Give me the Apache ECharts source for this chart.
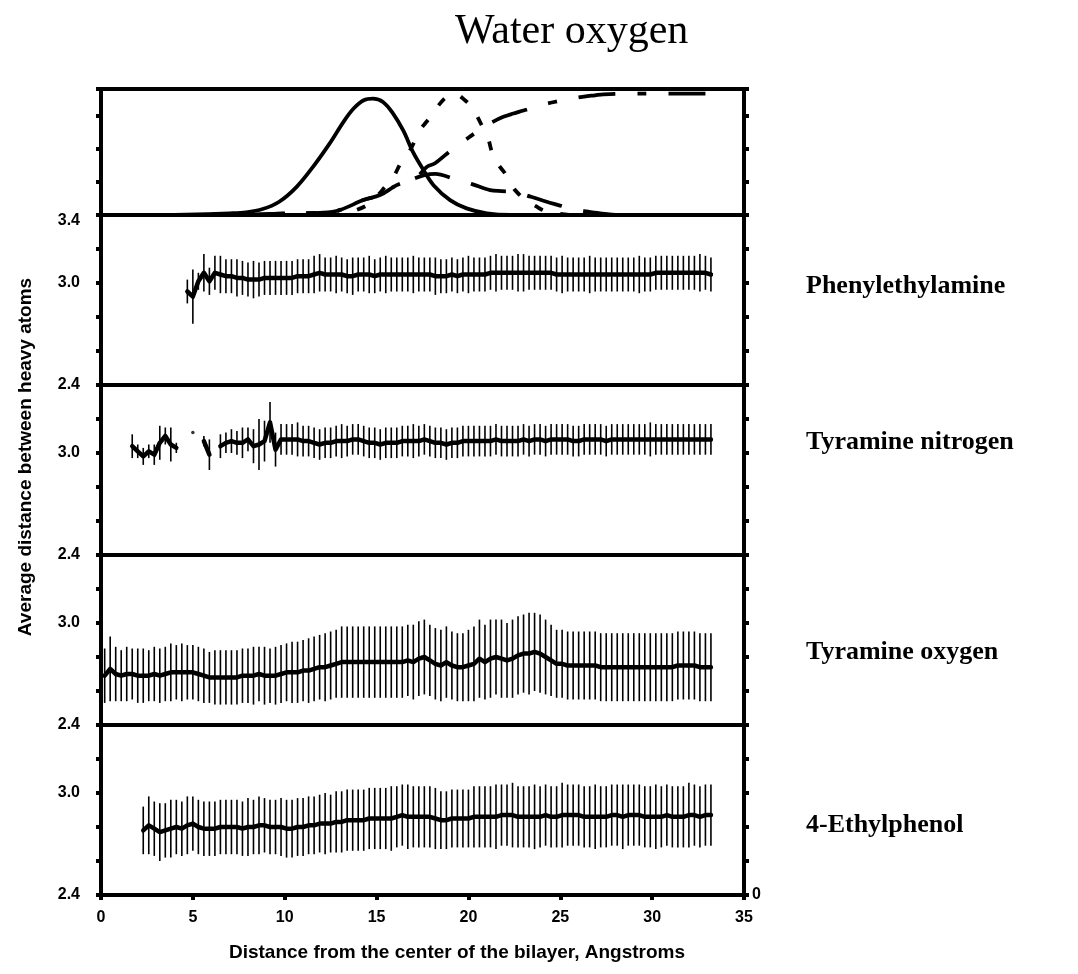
<!DOCTYPE html>
<html><head><meta charset="utf-8">
<script src="https://cdn.jsdelivr.net/npm/echarts@6/dist/echarts.min.js"></script>
<style>html,body{margin:0;padding:0;background:#fff}#c{width:1078px;height:974px}</style>
</head><body><div id="c"></div>
<script>
// ---- x sampling grid of the profiles (bin centres, Angstrom) ----
const X0 = 0.2, DX = 0.3;
const xTicks = [0, 5, 10, 15, 20, 25, 30, 35];

// ---- Top panel: density profiles ----
const solidX = [4, 7.0, 7.9, 8.8, 9.7, 10.65, 11.55, 12.45, 13.2, 13.75, 14.3, 14.8, 15.35, 15.9, 16.45, 17.0, 17.55, 18.1, 19.0, 19.9, 21.0, 22.3, 33];
const solidY = [0, 0.05, 0.08, 0.18, 0.40, 0.85, 1.46, 2.16, 2.81, 3.21, 3.46, 3.51, 3.41, 3.06, 2.55, 1.88, 1.36, 0.9, 0.45, 0.2, 0.05, 0, 0];
const dotX = [12.5, 13.5, 14.5, 15.0, 15.55, 15.82, 16.46, 16.73, 17.37, 17.64, 18.0, 18.45, 18.82, 19.3, 19.81, 20.18, 20.5, 20.81, 21.03, 21.36, 21.72, 22.0, 22.36, 22.54, 23.0, 23.72, 24.17, 25.0, 26.0, 33];
const dotY = [0, 0.08, 0.3, 0.55, 0.9, 1.05, 1.71, 1.86, 2.56, 2.76, 3.0, 3.36, 3.56, 3.65, 3.46, 3.26, 2.95, 2.61, 2.39, 1.76, 1.45, 1.25, 0.9, 0.75, 0.5, 0.25, 0.12, 0.03, 0, 0];
const bumpX = [8, 10.3, 12.1, 13.0, 14.28, 15.19, 16.1, 16.82, 17.6, 18.2, 19.18, 20.2, 21.18, 21.8, 22.45, 23.4, 24.26, 24.9, 25.53, 26.3, 27.16, 28.5, 33];
const bumpY = [0, 0.05, 0.07, 0.15, 0.45, 0.6, 0.9, 1.05, 1.2, 1.24, 1.1, 0.93, 0.75, 0.72, 0.7, 0.55, 0.4, 0.3, 0.2, 0.12, 0.05, 0, 0];
const waterX = [8, 10.3, 12.1, 13.0, 14.28, 15.19, 16.1, 16.82, 17.3, 17.73, 18.18, 19.18, 20.0, 20.72, 21.3, 21.9, 22.45, 23.0, 23.63, 24.6, 25.62, 26.3, 26.89, 27.34, 28.6, 30.6, 32.3, 33.0];
const waterY = [0, 0.05, 0.07, 0.15, 0.45, 0.6, 0.9, 1.05, 1.2, 1.45, 1.56, 2.01, 2.33, 2.61, 2.8, 2.96, 3.06, 3.15, 3.26, 3.4, 3.51, 3.57, 3.61, 3.64, 3.66, 3.66, 3.66, 3.66];

// ---- Phenylethylamine (bins from index 15) ----
const peaStart = 15;
const peaMean = [2.95,2.92,3.01,3.06,3.01,3.06,3.05,3.04,3.04,3.03,
3.03,3.02,3.02,3.02,3.03,3.03,3.03,3.03,3.03,3.03,
3.04,3.04,3.04,3.05,3.06,3.05,3.05,3.05,3.05,3.04,
3.04,3.05,3.05,3.05,3.04,3.05,3.05,3.05,3.05,3.05,
3.05,3.05,3.05,3.05,3.05,3.04,3.04,3.04,3.05,3.04,
3.05,3.05,3.05,3.05,3.05,3.06,3.06,3.06,3.06,3.06,
3.06,3.06,3.06,3.06,3.06,3.06,3.06,3.05,3.05,3.05,
3.05,3.05,3.05,3.05,3.05,3.05,3.05,3.05,3.05,3.05,
3.05,3.05,3.05,3.05,3.05,3.06,3.06,3.06,3.06,3.06,
3.06,3.06,3.06,3.06,3.06,3.05];
const peaErr = [0.07,0.16,0.05,0.11,0.08,0.10,0.11,0.10,0.10,0.11,
0.10,0.10,0.11,0.10,0.10,0.10,0.10,0.10,0.10,0.10,
0.10,0.10,0.10,0.11,0.11,0.10,0.10,0.11,0.10,0.10,
0.11,0.10,0.10,0.11,0.10,0.10,0.11,0.10,0.10,0.10,
0.10,0.11,0.10,0.10,0.10,0.11,0.10,0.10,0.10,0.10,
0.10,0.11,0.10,0.10,0.10,0.10,0.11,0.10,0.10,0.10,
0.11,0.11,0.10,0.10,0.10,0.10,0.10,0.10,0.11,0.10,
0.10,0.10,0.10,0.11,0.10,0.10,0.10,0.10,0.10,0.10,
0.10,0.10,0.11,0.10,0.10,0.10,0.10,0.10,0.10,0.10,
0.10,0.10,0.10,0.11,0.10,0.10];

// ---- Tyramine nitrogen (bins from index 0) ----
const tyrNStart = 0;
const tyrNMean = [null,null,null,null,null,
3.04,3.01,2.98,3.01,2.99,3.06,3.10,3.05,3.03,
null,null,3.12,null,3.07,2.99,null,
3.04,3.06,3.07,3.06,3.06,3.08,3.04,3.05,3.07,3.18,
3.02,3.08,3.08,3.08,3.08,3.07,3.07,3.06,3.05,3.06,
3.06,3.07,3.07,3.07,3.08,3.08,3.07,3.06,3.06,3.05,
3.06,3.06,3.06,3.07,3.07,3.07,3.07,3.08,3.07,3.06,
3.06,3.05,3.06,3.06,3.07,3.07,3.07,3.07,3.07,3.07,
3.08,3.07,3.07,3.07,3.07,3.08,3.07,3.08,3.08,3.07,
3.08,3.08,3.08,3.08,3.07,3.07,3.08,3.08,3.08,3.08,
3.07,3.08,3.08,3.08,3.08,3.08,3.08,3.08,3.08,3.08,
3.08,3.08,3.08,3.08,3.08,3.08,3.08,3.08,3.08,3.08];
const tyrNErr = [null,null,null,null,null,
0.07,0.04,0.05,0.04,0.06,0.10,0.05,0.10,0.03,
null,null,0,null,0.03,0.09,null,
0.07,0.06,0.07,0.07,0.09,0.07,0.10,0.15,0.12,0.12,
0.10,0.09,0.09,0.09,0.10,0.09,0.09,0.09,0.09,0.09,
0.09,0.09,0.10,0.09,0.09,0.09,0.09,0.09,0.09,0.09,
0.09,0.09,0.09,0.09,0.09,0.10,0.09,0.09,0.09,0.09,
0.09,0.09,0.09,0.09,0.09,0.09,0.09,0.09,0.09,0.09,
0.09,0.09,0.09,0.09,0.09,0.09,0.09,0.09,0.09,0.09,
0.09,0.09,0.09,0.09,0.09,0.09,0.09,0.09,0.09,0.09,
0.09,0.09,0.09,0.09,0.09,0.09,0.09,0.09,0.10,0.09,
0.09,0.09,0.09,0.09,0.09,0.09,0.09,0.09,0.09,0.09];

// ---- Tyramine oxygen (bins from index 0) ----
const tyrOStart = 0;
const tyrOMean = [2.69,2.73,2.70,2.69,2.70,2.70,2.69,2.69,2.69,2.70,
2.69,2.70,2.71,2.71,2.71,2.71,2.71,2.70,2.69,2.68,
2.68,2.68,2.68,2.68,2.68,2.69,2.69,2.69,2.70,2.69,
2.69,2.69,2.70,2.71,2.71,2.71,2.72,2.72,2.73,2.74,
2.74,2.75,2.76,2.77,2.77,2.77,2.77,2.77,2.77,2.77,
2.77,2.77,2.77,2.77,2.77,2.78,2.77,2.79,2.80,2.78,
2.76,2.75,2.77,2.75,2.74,2.74,2.75,2.76,2.79,2.77,
2.79,2.80,2.79,2.78,2.79,2.81,2.82,2.82,2.83,2.82,
2.80,2.78,2.76,2.76,2.75,2.75,2.75,2.75,2.75,2.75,
2.74,2.74,2.74,2.74,2.74,2.74,2.74,2.74,2.74,2.74,
2.74,2.74,2.74,2.74,2.75,2.75,2.75,2.75,2.74,2.74,2.74];
const tyrOErr = [0.16,0.19,0.16,0.15,0.16,0.15,0.16,0.16,0.15,0.16,
0.16,0.16,0.17,0.16,0.17,0.16,0.16,0.16,0.16,0.15,
0.16,0.16,0.16,0.16,0.16,0.16,0.16,0.17,0.16,0.17,
0.16,0.17,0.17,0.17,0.18,0.18,0.18,0.19,0.19,0.19,
0.20,0.20,0.20,0.21,0.21,0.21,0.21,0.21,0.21,0.21,
0.21,0.21,0.21,0.21,0.21,0.21,0.22,0.22,0.22,0.21,
0.21,0.21,0.21,0.20,0.20,0.20,0.21,0.22,0.23,0.22,
0.23,0.22,0.23,0.22,0.23,0.23,0.23,0.24,0.23,0.23,
0.22,0.21,0.20,0.20,0.20,0.20,0.20,0.20,0.20,0.20,
0.20,0.20,0.20,0.20,0.20,0.20,0.20,0.20,0.20,0.20,
0.20,0.20,0.20,0.20,0.20,0.20,0.20,0.20,0.20,0.20,0.20];

// ---- 4-Ethylphenol (bins from index 7) ----
const ethStart = 7;
const ethMean = [2.78,2.81,2.79,2.77,2.78,2.79,2.80,2.79,2.81,2.82,
2.80,2.79,2.79,2.79,2.80,2.80,2.80,2.80,2.79,2.80,
2.80,2.81,2.81,2.80,2.80,2.80,2.79,2.79,2.80,2.80,
2.81,2.81,2.82,2.82,2.82,2.83,2.83,2.84,2.84,2.84,
2.84,2.85,2.85,2.85,2.85,2.85,2.86,2.87,2.86,2.86,
2.86,2.86,2.86,2.85,2.84,2.84,2.85,2.85,2.85,2.85,
2.86,2.86,2.86,2.86,2.86,2.87,2.87,2.87,2.86,2.86,
2.86,2.86,2.86,2.87,2.86,2.86,2.87,2.87,2.87,2.87,
2.86,2.86,2.86,2.86,2.86,2.87,2.87,2.86,2.87,2.87,
2.87,2.86,2.86,2.86,2.86,2.87,2.86,2.86,2.86,2.87,
2.87,2.86,2.87,2.87];
const ethErr = [0.14,0.17,0.16,0.17,0.16,0.17,0.16,0.16,0.17,0.16,
0.16,0.16,0.16,0.16,0.16,0.16,0.16,0.16,0.16,0.17,
0.16,0.17,0.16,0.16,0.16,0.17,0.17,0.17,0.17,0.17,
0.17,0.17,0.17,0.18,0.17,0.18,0.18,0.18,0.18,0.18,
0.18,0.18,0.18,0.18,0.18,0.19,0.18,0.18,0.19,0.18,
0.18,0.18,0.18,0.18,0.17,0.17,0.17,0.17,0.17,0.17,
0.18,0.18,0.18,0.18,0.19,0.18,0.18,0.19,0.18,0.18,
0.18,0.19,0.18,0.18,0.18,0.18,0.19,0.18,0.18,0.18,
0.18,0.18,0.19,0.18,0.18,0.18,0.18,0.19,0.18,0.18,
0.18,0.18,0.18,0.19,0.18,0.18,0.18,0.18,0.18,0.19,
0.18,0.18,0.18,0.18];

const panelNames = ['Phenylethylamine', 'Tyramine nitrogen', 'Tyramine oxygen', '4-Ethylphenol'];
const yLabelValues = [2.4, 3.0];

// ---------------- build ----------------
const SANS = '"Liberation Sans", Arial, sans-serif';
const SERIF = '"Liberation Serif", "Times New Roman", serif';
const L = 101, R = 334;
const grids = [
  {left: L, right: R, top: 89, height: 126},
  {left: L, right: R, top: 215, height: 170},
  {left: L, right: R, top: 385, height: 170},
  {left: L, right: R, top: 555, height: 170},
  {left: L, right: R, top: 725, height: 170}
].map(g => Object.assign(g, {show: true, borderColor: '#000', borderWidth: 4, backgroundColor: 'transparent'}));

const near = (a, b) => Math.abs(a - b) < 1e-6;
const tick = {show: true, inside: false, length: 5, lineStyle: {color: '#000', width: 4}};
const axLine = {show: true, lineStyle: {color: '#000', width: 4}};

const xAxis = grids.map((g, i) => ({
  gridIndex: i, type: 'value', min: 0, max: 35, interval: 5,
  axisLine: axLine, splitLine: {show: false},
  axisTick: i === 4 ? tick : {show: false},
  axisLabel: i === 4 ? {show: true, color: '#000', fontFamily: SANS, fontWeight: 'bold', fontSize: 16, margin: 15,
    formatter: v => xTicks.indexOf(v) >= 0 ? String(v) : ''} : {show: false}
}));

const yAxis = [];
for (let side = 0; side < 2; side++) {
  grids.forEach((g, i) => {
    const top = i === 0;
    yAxis.push({
      gridIndex: i, type: 'value', position: side === 0 ? 'left' : 'right',
      min: top ? 0 : 2.4, max: top ? 3.8 : 3.4, interval: top ? 1 : 0.2,
      axisLine: axLine, splitLine: {show: false}, axisTick: tick,
      axisLabel: (side === 0 && !top) ? {
        show: true, color: '#000', fontFamily: SANS, fontWeight: 'bold', fontSize: 16, margin: 21,
        formatter: v => {
          if (yLabelValues.some(t => near(v, t))) return v.toFixed(1);
          if (i === 1 && near(v, 3.4)) return '{t|3.4}';
          return '';
        },
        rich: {t: {fontFamily: SANS, fontWeight: 'bold', fontSize: 16, color: '#000', padding: [12, 0, 0, 0]}}
      } : {show: false}
    });
  });
}

const series = [];
function prof(xs, ys, type) {
  series.push({
    type: 'line', xAxisIndex: 0, yAxisIndex: 0, showSymbol: false, smooth: 0.35, z: 3,
    data: xs.map((x, j) => [x, ys[j]]),
    lineStyle: {color: '#000', width: 3.8, type: type, cap: 'butt', join: 'round'}
  });
}
prof(solidX, solidY, 'solid');
prof(dotX, dotY, [9, 18]);
prof(bumpX, bumpY, [36, 22]);
prof(waterX, waterY, [37, 22, 9, 22]);

function panel(gi, start, mean, err) {
  const lineData = [], bars = [], iso = [];
  mean.forEach((m, j) => {
    const x = +(X0 + DX * (start + j)).toFixed(2);
    lineData.push([x, m == null ? '-' : m]);
    if (m != null && err[j] > 0) bars.push([x, m - err[j], m + err[j]]);
    const prev = j > 0 ? mean[j - 1] : null, next = j < mean.length - 1 ? mean[j + 1] : null;
    if (m != null && prev == null && next == null) iso.push([x, m]);
  });
  series.push({
    type: 'custom', xAxisIndex: gi, yAxisIndex: gi, z: 2, data: bars,
    renderItem: (params, api) => {
      const p1 = api.coord([api.value(0), api.value(1)]);
      const p2 = api.coord([api.value(0), api.value(2)]);
      return {type: 'line', shape: {x1: p1[0], y1: p1[1], x2: p2[0], y2: p2[1]},
        style: {stroke: '#000', lineWidth: 1.6}};
    }
  });
  series.push({
    type: 'line', xAxisIndex: gi, yAxisIndex: gi, showSymbol: false, connectNulls: false, z: 3,
    data: lineData, lineStyle: {color: '#000', width: 4.5, cap: 'round', join: 'round'}
  });
  if (iso.length) series.push({
    type: 'scatter', xAxisIndex: gi, yAxisIndex: gi, symbolSize: 3.5, z: 3,
    itemStyle: {color: '#000'}, data: iso
  });
}
panel(1, peaStart, peaMean, peaErr);
panel(2, tyrNStart, tyrNMean, tyrNErr);
panel(3, tyrOStart, tyrOMean, tyrOErr);
panel(4, ethStart, ethMean, ethErr);

const labelY = [286, 442, 652, 825];
const graphic = [
  {type: 'text', left: 455, top: 11, style: {text: 'Water oxygen', font: '42px ' + SERIF, fill: '#000'}},
  {type: 'text', x: 752, y: 895, style: {text: '0', font: 'bold 16px ' + SANS, fill: '#000', textVerticalAlign: 'middle'}},
  {type: 'text', x: 457, y: 953, style: {text: 'Distance from the center of the bilayer, Angstroms', font: 'bold 19px ' + SANS, fill: '#000', textAlign: 'center', textVerticalAlign: 'middle'}},
  {type: 'text', x: 26, y: 457, rotation: Math.PI / 2, style: {text: 'Average distance between heavy atoms', font: 'bold 19px ' + SANS, fill: '#000', textAlign: 'center', textVerticalAlign: 'middle'}}
].concat(panelNames.map((n, i) => ({
  type: 'text', x: 806, y: labelY[i], style: {text: n, font: 'bold 26px ' + SERIF, fill: '#000', textVerticalAlign: 'middle'}
})));

const chart = echarts.init(document.getElementById('c'), null, {renderer: 'canvas'});
chart.setOption({animation: false, backgroundColor: '#fff', grid: grids, xAxis, yAxis, series, graphic});
</script></body></html>
